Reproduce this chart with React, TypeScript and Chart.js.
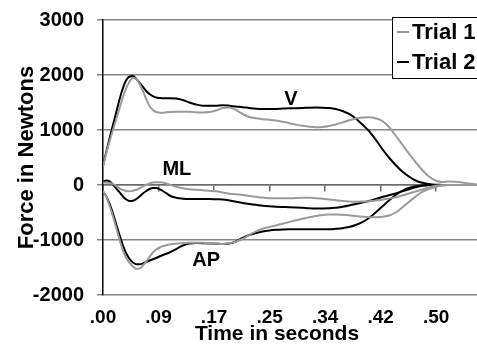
import React, { useEffect, useRef } from "react";
import { Chart, registerables } from "chart.js";

Chart.register(...registerables);

// Sample times (seconds)
const times = [
  0, 0.005, 0.01, 0.015, 0.02, 0.025, 0.03, 0.035, 0.04, 0.045, 0.05, 0.055, 0.06, 0.065, 0.07, 0.075, 0.08, 0.085, 0.09, 0.095, 0.1,
  0.11, 0.12, 0.13, 0.14, 0.15, 0.16, 0.17, 0.18, 0.19, 0.2,
  0.21, 0.22, 0.23, 0.24, 0.25, 0.26, 0.27, 0.28, 0.29, 0.3,
  0.31, 0.32, 0.33, 0.34, 0.35, 0.36, 0.37, 0.38, 0.39, 0.4,
  0.41, 0.42, 0.43, 0.44, 0.45, 0.46, 0.47, 0.48, 0.49, 0.5,
  0.51, 0.52, 0.53, 0.54, 0.55, 0.56, 0.57, 0.58, 0.59, 0.6,
];

const tickTimes = [0, 0.0835, 0.167, 0.2505, 0.334, 0.4175, 0.501];
const tickLabels = [".00", ".09", ".17", ".25", ".34", ".42", ".50"];
const seriesNames = ["Trial 1", "Trial 2"];
const curveNames = ["V", "ML", "AP"];

// Vertical force
const vTrial1 = [
  330, 580, 800, 1000, 1200, 1400, 1600, 1764, 1882, 1945, 1927, 1836, 1709, 1564, 1436, 1364, 1327, 1315, 1315, 1322, 1327,
  1333, 1333, 1331, 1322, 1318, 1327, 1355, 1400, 1409, 1364,
  1291, 1236, 1213, 1196, 1187, 1173, 1151, 1124, 1098, 1076,
  1060, 1051, 1055, 1073, 1100, 1136, 1176, 1209, 1227, 1231,
  1213, 1164, 1055, 900, 736, 573, 418, 273, 155, 82,
  55, 64, 58, 45, 27, 13, 5, 0, 0, 0,
];
const vTrial2 = [
  364, 600, 855, 1091, 1327, 1564, 1764, 1909, 1973, 1982, 1927, 1855, 1782, 1709, 1655, 1618, 1591, 1582, 1576, 1576, 1576,
  1573, 1545, 1500, 1464, 1442, 1440, 1442, 1451, 1442, 1427,
  1415, 1400, 1387, 1382, 1382, 1384, 1389, 1394, 1396, 1400,
  1406, 1407, 1406, 1400, 1382, 1345, 1291, 1209, 1100, 982,
  827, 655, 500, 364, 245, 155, 82, 40, 18, 5,
  2, 0, 0, 0, 0, 0, 0, 0, 0, 0,
];

// Medio-lateral force
const mlTrial1 = [
  36, 45, 36, 18, -18, -60, -91, -109, -115, -105, -87, -60, -27, 4, 27, 44, 49, 49, 44, 27, 7,
  -33, -60, -76, -87, -96, -105, -115, -136, -160, -169,
  -182, -200, -215, -229, -240, -242, -242, -242, -236, -233,
  -231, -240, -251, -262, -276, -291, -300, -304, -302, -295,
  -282, -267, -245, -222, -191, -155, -118, -82, -45, -15,
  -4, 0, 0, 0, 0, 0, 0, 0, 0, 0,
];
const mlTrial2 = [
  55, 82, 64, 9, -64, -136, -209, -264, -291, -287, -255, -209, -155, -109, -73, -55, -55, -76, -109, -149, -191,
  -233, -249, -255, -255, -255, -255, -260, -264, -282, -305,
  -327, -345, -360, -376, -387, -395, -400, -404, -409, -415,
  -422, -425, -425, -424, -415, -396, -373, -345, -318, -291,
  -255, -218, -187, -155, -115, -76, -42, -15, -4, 0,
  0, 0, 0, 0, 0, 0, 0, 0, 0, 0,
];

// Antero-posterior force
const apTrial1 = [
  -109, -218, -382, -573, -782, -1000, -1191, -1327, -1418, -1482, -1524, -1518, -1464, -1391, -1309, -1227, -1173, -1136, -1113, -1096, -1082,
  -1065, -1058, -1051, -1050, -1052, -1058, -1065, -1072, -1060, -1030,
  -982, -909, -842, -796, -764, -736, -705, -673, -642, -615,
  -587, -564, -545, -536, -536, -542, -551, -564, -576, -585,
  -587, -578, -555, -500, -409, -309, -209, -127, -73, -36,
  -11, 0, 0, 0, 0, 0, 0, 0, 0, 0,
];
const apTrial2 = [
  -118, -209, -345, -518, -718, -918, -1100, -1245, -1345, -1409, -1440, -1442, -1427, -1400, -1373, -1351, -1327, -1300, -1273, -1251, -1227,
  -1164, -1100, -1064, -1055, -1058, -1064, -1067, -1073, -1064, -1027,
  -964, -909, -873, -845, -827, -815, -807, -805, -805, -805,
  -805, -805, -805, -804, -796, -785, -764, -727, -673, -600,
  -500, -391, -282, -182, -105, -55, -24, -9, -2, 0,
  0, 0, 0, 0, 0, 0, 0, 0, 0, 0,
];

const FONT = "'Liberation Sans', Arial, Helvetica, sans-serif";
const GRAY = "#9a9a9a";
const BLACK = "#000000";

const toPoints = (vals: number[]) => vals.map((v, i) => ({ x: times[i], y: v }));

const overlayPlugin = {
  id: "overlay",
  afterDraw(chart: any) {
    const { ctx, scales } = chart;
    const xs = scales.x;
    const ys = scales.y;
    ctx.save();
    // curve labels
    ctx.fillStyle = "#000";
    ctx.font = `bold 20px ${FONT}`;
    ctx.textAlign = "center";
    ctx.textBaseline = "middle";
    const labelPos: [number, number][] = [
      [0.2826, 1560],
      [0.111, 280],
      [0.155, -1370],
    ];
    curveNames.forEach((name, i) => {
      ctx.fillText(name, xs.getPixelForValue(labelPos[i][0]), ys.getPixelForValue(labelPos[i][1]));
    });
    // x axis title
    ctx.font = `bold 21px ${FONT}`;
    ctx.fillText("Time in seconds", 277, 334);
    // legend
    const lx = 392, ly = 17, lw = 160, lh = 61;
    ctx.fillStyle = "#fff";
    ctx.fillRect(lx, ly, lw, lh);
    ctx.strokeStyle = "#000";
    ctx.lineWidth = 1;
    ctx.strokeRect(lx + 0.5, ly + 0.5, lw, lh);
    const colors = [GRAY, BLACK];
    ctx.font = `bold 22px ${FONT}`;
    ctx.textAlign = "left";
    seriesNames.forEach((name, i) => {
      const cy = ly + 15 + i * 30;
      ctx.strokeStyle = colors[i];
      ctx.lineWidth = 2;
      ctx.beginPath();
      ctx.moveTo(lx + 5, cy);
      ctx.lineTo(lx + 17, cy);
      ctx.stroke();
      ctx.fillStyle = "#000";
      ctx.fillText(name, lx + 20, cy + 1);
    });
    ctx.restore();
  },
};

export default function App() {
  const canvasRef = useRef<HTMLCanvasElement | null>(null);

  useEffect(() => {
    if (!canvasRef.current) return;
    const mk = (label: string, vals: number[], color: string) => ({
      label,
      data: toPoints(vals),
      borderColor: color,
      backgroundColor: color,
      borderWidth: 2,
      pointRadius: 0,
      fill: false,
      cubicInterpolationMode: "monotone" as const,
      xAxisID: "x",
      yAxisID: "y",
    });
    const chart = new Chart(canvasRef.current, {
      type: "line",
      data: {
        datasets: [
          mk("V " + seriesNames[0], vTrial1, GRAY),
          mk("ML " + seriesNames[0], mlTrial1, GRAY),
          mk("AP " + seriesNames[0], apTrial1, GRAY),
          mk("V " + seriesNames[1], vTrial2, BLACK),
          mk("ML " + seriesNames[1], mlTrial2, BLACK),
          mk("AP " + seriesNames[1], apTrial2, BLACK),
        ],
      },
      options: {
        animation: false,
        responsive: false,
        devicePixelRatio: 1,
        layout: { padding: { left: 0, top: 20, right: 28, bottom: 0 } },
        plugins: { legend: { display: false }, tooltip: { enabled: false } },
        scales: {
          x: {
            type: "linear",
            position: { y: 0 } as any,
            min: 0,
            max: 0.6,
            afterBuildTicks: (s: any) => {
              s.ticks = tickTimes.map((v) => ({ value: v }));
            },
            ticks: { display: false },
            grid: { drawOnChartArea: false, drawTicks: true, tickLength: 6, color: "#6a6a6a", lineWidth: 1.5 },
            border: { display: true, color: "#6a6a6a", width: 1.5 },
          },
          x2: {
            type: "linear",
            position: "bottom",
            min: 0,
            max: 0.6,
            afterBuildTicks: (s: any) => {
              s.ticks = tickTimes.map((v) => ({ value: v }));
            },
            afterFit: (s: any) => {
              s.height = 49;
              s.paddingLeft = 0;
              s.paddingRight = 0;
            },
            ticks: {
              autoSkip: false,
              maxRotation: 0,
              padding: 11,
              color: "#000",
              font: { family: FONT, size: 19, weight: "bold" },
              callback: (_v: any, i: number) => tickLabels[i],
            },
            grid: { display: false, drawTicks: false },
            border: { display: false },
          },
          y: {
            type: "linear",
            position: "left",
            min: -2000,
            max: 3000,
            afterBuildTicks: (s: any) => {
              s.ticks = [-2000, -1000, 0, 1000, 2000, 3000].map((v) => ({ value: v }));
            },
            afterFit: (s: any) => {
              s.width = 103;
              s.paddingTop = 0;
              s.paddingBottom = 0;
            },
            ticks: {
              padding: 13,
              color: "#000",
              font: { family: FONT, size: 20, weight: "bold" },
              callback: (v: any) => String(v),
            },
            grid: { color: "#858585", lineWidth: 1.5, tickLength: 6, drawTicks: true, tickColor: "#858585" },
            border: { display: true, color: "#000", width: 1.5 },
            title: {
              display: true,
              text: "Force in Newtons",
              color: "#000",
              font: { family: FONT, size: 22, weight: "bold" },
              padding: { top: 14, bottom: 0 },
            },
          },
        },
      },
      plugins: [overlayPlugin],
    });
    return () => chart.destroy();
  }, []);

  return (
    <div
      style={{
        position: "fixed",
        left: 0,
        top: 0,
        width: 477,
        height: 344,
        overflow: "hidden",
        background: "#fff",
      }}
    >
      <canvas ref={canvasRef} width={530} height={344} style={{ width: 530, height: 344, display: "block" }} />
    </div>
  );
}
